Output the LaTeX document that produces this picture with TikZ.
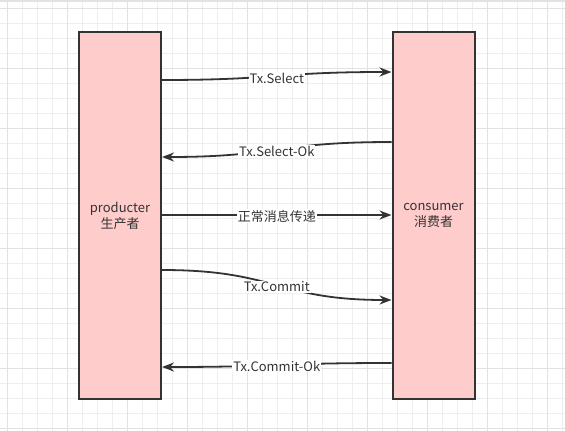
\documentclass[tikz,border=0pt]{standalone}
\usepackage{fontspec}
\setmainfont{Noto Sans CJK SC}
\usetikzlibrary{arrows.meta}
\definecolor{boxfill}{HTML}{FFCCCC}
\definecolor{ink}{HTML}{333333}
\definecolor{gridminor}{HTML}{EEEEEE}
\definecolor{gridmajor}{HTML}{E2E2E2}
\tikzset{
  actor/.style={draw=ink, line width=2pt, fill=boxfill, minimum width=82pt, minimum height=367pt, inner sep=0pt, text=ink, font=\fontsize{13}{16}\selectfont, align=center},
  msg/.style={draw=ink, line width=1.8pt, -{Stealth[length=12pt,width=9pt]}},
  lbl/.style={fill=white, inner sep=1pt, text=ink, font=\fontsize{13}{15}\selectfont}
}
\begin{document}
\begin{tikzpicture}[x=1pt,y=-1pt]
\useasboundingbox (0,0) rectangle (565,431);
\fill[white] (0,0) rectangle (565,431);
% grid
\foreach \i in {0,...,37} {
  \draw[gridminor, line width=1pt] (7.5+15*\i,0) -- (7.5+15*\i,431);
}
\foreach \j in {0,...,28} {
  \draw[gridminor, line width=1pt] (0,8.3+15*\j) -- (565,8.3+15*\j);
}
\foreach \i in {0,...,9} {
  \draw[gridmajor, line width=1pt] (7.5+60*\i,0) -- (7.5+60*\i,431);
}
\foreach \j in {0,...,7} {
  \draw[gridmajor, line width=1pt] (0,8.3+60*\j) -- (565,8.3+60*\j);
}
\fill[gridmajor] (0,0) rectangle (565,1.7);
% actors
\node[actor] (prod) at (120,215.5) {producter\\生产者};
\node[actor] (cons) at (433.5,215.5) {consumer\\消费者};
% anchors
\coordinate (p1) at (prod.east |- 0,80);
\coordinate (c1) at (cons.west |- 0,72);
\coordinate (c2) at (cons.west |- 0,142);
\coordinate (p2) at (prod.east |- 0,157);
\coordinate (p3) at (prod.east |- 0,215);
\coordinate (c3) at (cons.west |- 0,215);
\coordinate (p4) at (prod.east |- 0,270);
\coordinate (c4) at (cons.west |- 0,300);
\coordinate (c5) at (cons.west |- 0,363);
\coordinate (p5) at (prod.east |- 0,367);
% messages
\draw[msg] (p1) .. controls +(115,0) and +(-115,0) .. node[lbl, yshift=-2pt] {Tx.Select} (c1);
\draw[msg] (c2) .. controls +(-115,0) and +(115,0) .. node[lbl, yshift=-2pt] {Tx.Select-Ok} (p2);
\draw[msg] (p3) -- node[lbl, yshift=-1pt] {正常消息传递} (c3);
\draw[msg] (p4) .. controls +(115,0) and +(-115,0) .. node[lbl, yshift=-2pt] {Tx.Commit} (c4);
\draw[msg] (c5) .. controls +(-115,0) and +(115,0) .. node[lbl, yshift=-1pt] {Tx.Commit-Ok} (p5);
\end{tikzpicture}
\end{document}
